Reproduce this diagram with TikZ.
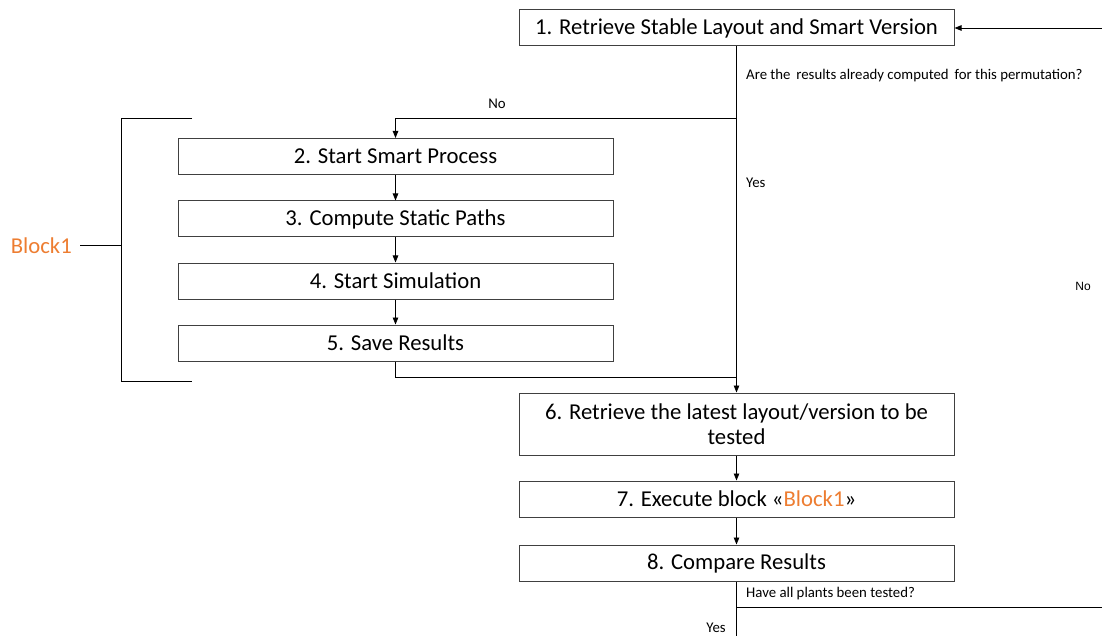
\documentclass[tikz,border=0pt]{standalone}
\usepackage{fontspec}
\setmainfont{Carlito}
\newfontfamily\labelsans{Liberation Sans}
\usetikzlibrary{arrows.meta}
\definecolor{accent}{HTML}{ED7D31}
\definecolor{edge}{HTML}{404040}
\tikzset{
  stepbox/.style={draw=edge, line width=1pt, minimum width=435pt, minimum height=36pt,
    inner sep=0pt, align=center, font=\fontsize{22.7}{26}\selectfont},
  flow/.style={line width=0.9pt, draw=black},
  tip/.style={flow, -{Triangle[length=7pt,width=5.5pt]}},
  note/.style={font=\fontsize{14.8}{17}\selectfont, inner sep=0pt},
}
\begin{document}
\begin{tikzpicture}[x=1pt,y=-1pt]
\useasboundingbox (0,0) rectangle (1102,636);

% main column
\node[stepbox] (b1) at (736.5,28) {1. Retrieve Stable Layout and Smart Version};
\node[stepbox, minimum height=62pt] (b6) at (736.5,424)
  {6. Retrieve the latest layout/version to be\\[-1pt]tested};
\node[stepbox] (b7) at (736.5,499) {7. Execute block «\textcolor{accent}{Block1}»};
\node[stepbox] (b8) at (736.5,563) {8. Compare Results};

% Block1 column
\node[stepbox] (b2) at (395.5,156.5) {2. Start Smart Process};
\node[stepbox] (b3) at (395.5,219) {3. Compute Static Paths};
\node[stepbox] (b4) at (395.5,281) {4. Start Simulation};
\node[stepbox] (b5) at (395.5,343) {5. Save Results};

% junction points
\coordinate (split) at (736.5,118);
\coordinate (join) at (736.5,377);
\coordinate (loopin) at (1102,28);
\coordinate (exit) at (736.5,636);
\coordinate (fork) at (736.5,607);
\coordinate (loopout) at (1102,607);

% connectors
\draw[tip] (b1.south) -- (b6.north);
\draw[tip] (split) -| (b2.north);
\draw[tip] (b2.south) -- (b3.north);
\draw[tip] (b3.south) -- (b4.north);
\draw[tip] (b4.south) -- (b5.north);
\draw[flow] (b5.south) |- (join);
\draw[tip] (b6.south) -- (b7.north);
\draw[tip] (b7.south) -- (b8.north);
\draw[flow] (b8.south) -- (exit);
\draw[flow] (fork) -- (loopout);
\draw[tip] (loopin) -- (b1.east);

% bracket grouping steps 2-5
\coordinate (brtop) at (192,118);
\coordinate (brbot) at (192,381);
\coordinate (brmid) at (121,245);
\coordinate (brlead) at (80,245);
\draw[flow] (brtop) -| (121,381) -- (brbot);
\draw[flow] (brmid) -- (brlead);
\node[anchor=east, inner sep=0pt, text=accent, font=\fontsize{22.7}{26}\selectfont] (blk) at (72,246) {Block1};

% decision labels
\node[note, anchor=west] (q1) at (746,76) {Are the\, results already computed\, for this permutation?};
\node[note] (no1) at (497,104) {No};
\node[note, anchor=west] (yes1) at (746,183) {Yes};
\node[note, anchor=west] (q2) at (746,594) {Have all plants been tested?};
\node[note] (yes2) at (716,628) {Yes};
\node[note, font=\labelsans\fontsize{12}{14}\selectfont] (no2) at (1083,286) {No};
\end{tikzpicture}
\end{document}
